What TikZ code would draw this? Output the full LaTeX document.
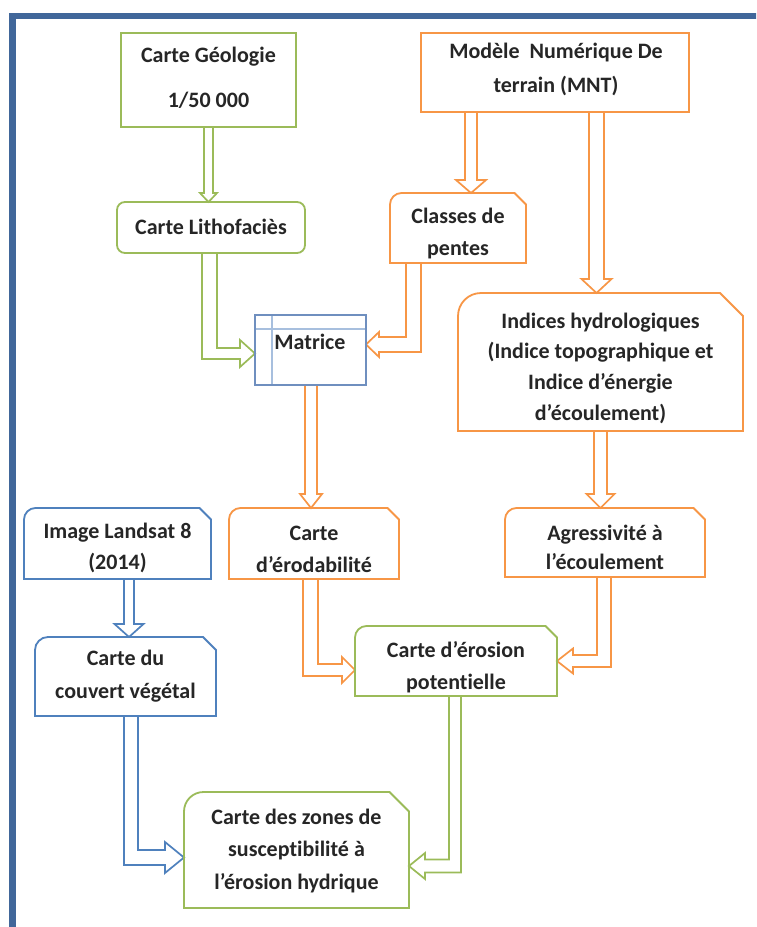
\documentclass[tikz,border=0pt]{standalone}
\usepackage{fontspec}
\setmainfont{Carlito}[Ligatures=NoCommon]
\usetikzlibrary{calc}
\definecolor{grn}{HTML}{9BBB59}
\definecolor{org}{HTML}{F79646}
\definecolor{blu}{HTML}{4F81BD}
\definecolor{frm}{HTML}{41679A}
\definecolor{matl}{HTML}{A7BFDE}
\definecolor{matb}{HTML}{6F8FBF}
\tikzset{
  holder/.style={rectangle, draw=none, inner sep=0pt, outer sep=0pt},
  boxline/.style={line width=1.8pt, line join=miter},
  arrline/.style={line width=1.7pt, line join=miter, fill=white},
  txt/.style={inner sep=0pt, align=center, text=black!85, font=\bfseries\fontsize{22}{#1}\selectfont},
  txt/.default=31
}
\newcommand\snipround[3]{%
  \draw[boxline,draw=#2] ([yshift=-#3]#1.north west) arc[start angle=180,end angle=90,radius=#3]
    -- ([xshift=-#3]#1.north east) -- ([yshift=-#3]#1.north east)
    -- (#1.south east) -- (#1.south west) -- cycle;}
\newcommand\varr[6]{%
  \draw[arrline,draw=#1] let \p1=(#2), \p2=(#3) in
    ({\x1-#4},{\y1}) -- ({\x1-#4},{\y2+#6}) -- ({\x1-#5},{\y2+#6}) -- ({\x1},{\y2})
    -- ({\x1+#5},{\y2+#6}) -- ({\x1+#4},{\y2+#6}) -- ({\x1+#4},{\y1}) -- cycle;}
\newcommand\earr[8]{%
  \draw[arrline,draw=#1] let \p1=(#2), \p2=(#3) in
    ({\x1-(#8)*#4},{\y1}) -- ({\x1-(#8)*#4},{\y2-#5}) -- ({\x2-(#8)*#7},{\y2-#5})
    -- ({\x2-(#8)*#7},{\y2-#6}) -- ({\x2},{\y2}) -- ({\x2-(#8)*#7},{\y2+#6})
    -- ({\x2-(#8)*#7},{\y2+#5}) -- ({\x1+(#8)*#4},{\y2+#5}) -- ({\x1+(#8)*#4},{\y1}) -- cycle;}
\begin{document}
\begin{tikzpicture}[x=1pt,y=-1pt]
\useasboundingbox (0,0) rectangle (756,927);
\begin{scope}
\clip (0,0) rectangle (756,927);
\fill[white] (0,0) rectangle (756,927);
\draw[frm, line width=6.5pt] (12.5,16) rectangle (820,1000);
\end{scope}

% box holders
\node[holder, minimum width=175pt, minimum height=94pt] (geo) at (208.5,80) {};
\node[holder, minimum width=188pt, minimum height=51pt] (litho) at (211,227.5) {};
\node[holder, minimum width=111pt, minimum height=70pt] (mat) at (310.5,350) {};
\node[holder, minimum width=136pt, minimum height=70pt] (cls) at (458,228) {};
\node[holder, minimum width=268pt, minimum height=79pt] (mnt) at (555,72.5) {};
\node[holder, minimum width=285pt, minimum height=138pt] (ind) at (600.5,362) {};
\node[holder, minimum width=200pt, minimum height=69pt] (agr) at (605,542.5) {};
\node[holder, minimum width=170pt, minimum height=71pt] (ero) at (314,543.5) {};
\node[holder, minimum width=202pt, minimum height=70pt] (pot) at (456,661) {};
\node[holder, minimum width=187pt, minimum height=71pt] (lsat) at (117.5,543.5) {};
\node[holder, minimum width=181pt, minimum height=79pt] (couv) at (125.5,676.5) {};
\node[holder, minimum width=225pt, minimum height=116pt] (zon) at (296.5,850) {};

% arrow anchor coordinates
\coordinate (a1s) at (geo.south);
\coordinate (a1t) at (a1s |- litho.north);
\coordinate (a2s) at ([xshift=-1.5pt]litho.south);
\coordinate (a2t) at ([yshift=-3.5pt]mat.west);
\coordinate (a3s) at ([xshift=-84pt]mnt.south);
\coordinate (a3t) at (a3s |- cls.north);
\coordinate (a4s) at ([xshift=41.5pt]mnt.south);
\coordinate (a4t) at (a4s |- ind.north);
\coordinate (a5s) at ([xshift=-44.5pt]cls.south);
\coordinate (a5t) at ([yshift=5.5pt]mat.east);
\coordinate (a6s) at ([xshift=0.5pt]mat.south);
\coordinate (a6t) at (a6s |- ero.north);
\coordinate (a7s) at (ind.south);
\coordinate (a7t) at (a7s |- agr.north);
\coordinate (a8s) at ([xshift=11.5pt]lsat.south);
\coordinate (a8t) at (a8s |- couv.north);
\coordinate (a9s) at ([xshift=-3.5pt]ero.south);
\coordinate (a9t) at ([yshift=-9pt]pot.west);
\coordinate (a10s) at ([xshift=-1pt]agr.south);
\coordinate (a10t) at (pot.east);
\coordinate (a11s) at ([xshift=-1pt]pot.south);
\coordinate (a11t) at ([yshift=-16pt]zon.east);
\coordinate (a12s) at ([xshift=5.5pt]couv.south);
\coordinate (a12t) at ([yshift=-7.5pt]zon.west);

% arrows
\varr{grn}{a1s}{a1t}{4.5pt}{8.5pt}{9pt}
\earr{grn}{a2s}{a2t}{7.5pt}{5.5pt}{13.5pt}{15pt}{1}
\varr{org}{a3s}{a3t}{6pt}{15pt}{13pt}
\varr{org}{a4s}{a4t}{7.5pt}{15pt}{14pt}
\earr{org}{a5s}{a5t}{7.5pt}{7.5pt}{12.5pt}{13pt}{-1}
\varr{org}{a6s}{a6t}{6pt}{11pt}{14pt}
\varr{org}{a7s}{a7t}{6.5pt}{14pt}{14pt}
\varr{blu}{a8s}{a8t}{5pt}{14.5pt}{13pt}
\earr{org}{a9s}{a9t}{7.5pt}{6pt}{13pt}{13pt}{1}
\earr{org}{a10s}{a10t}{7pt}{6pt}{12.5pt}{16pt}{-1}
\earr{grn}{a11s}{a11t}{6pt}{6.5pt}{13pt}{16pt}{-1}
\earr{blu}{a12s}{a12t}{7pt}{7.5pt}{15.5pt}{19pt}{1}

% box outlines
\draw[boxline,draw=grn] (geo.north west) rectangle (geo.south east);
\draw[boxline,draw=grn,rounded corners=8pt] (litho.north west) rectangle (litho.south east);
\draw[draw=matl, line width=1.2pt] ([xshift=17pt]mat.north west) -- ([xshift=17pt]mat.south west);
\draw[draw=matl, line width=1.2pt] ([yshift=-14pt]mat.north west) -- ([yshift=-14pt]mat.north east);
\draw[draw=matb, line width=1.5pt] (mat.north west) rectangle (mat.south east);
\snipround{cls}{org}{11.5pt}
\draw[boxline,draw=org] (mnt.north west) rectangle (mnt.south east);
\snipround{ind}{org}{23pt}
\snipround{agr}{org}{11.5pt}
\snipround{ero}{org}{11.5pt}
\snipround{pot}{grn}{11.5pt}
\snipround{lsat}{blu}{11.5pt}
\snipround{couv}{blu}{13pt}
\snipround{zon}{grn}{19.5pt}

% texts
\node[txt=45] (geo-t) at (208.5,78) {Carte Géologie\\1/50 000};
\node[txt] (litho-t) at (211,227) {Carte Lithofaciès};
\node[txt] (mat-t) at (310,342) {Matrice};
\node[txt=32] (cls-t) at (458,234) {Classes de\\pentes};
\node[txt=34] (mnt-t) at (556,69) {Modèle\ \ Numérique De\\terrain (MNT)};
\node[txt=30.7] (ind-t) at (600.5,368) {Indices hydrologiques\\(Indice topographique et\\Indice d’énergie\\d’écoulement)};
\node[txt=29] (agr-t) at (605,547.5) {Agressivité à\\l’écoulement};
\node[txt=32] (ero-t) at (314,549) {Carte\\d’érodabilité};
\node[txt=32] (pot-t) at (456,667) {Carte d’érosion\\potentielle};
\node[txt=31] (lsat-t) at (117.5,547.5) {Image Landsat 8\\(2014)};
\node[txt=33] (couv-t) at (125.5,676.5) {Carte du\\couvert végétal};
\node[txt=33] (zon-t) at (296.5,851) {Carte des zones de\\susceptibilité à\\l’érosion hydrique};
\end{tikzpicture}
\end{document}
